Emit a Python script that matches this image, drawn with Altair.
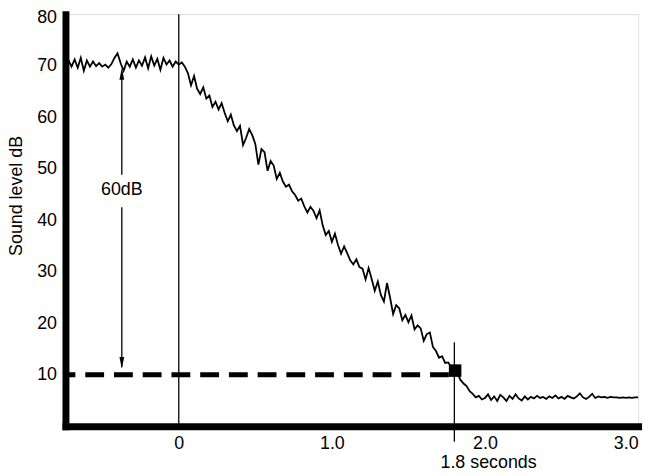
import altair as alt
import numpy as np
import pandas as pd

# Sound level (dB), sampled every 0.02 s starting at t = -0.74 s
plateau_db = [
    69.5, 71.0, 69.8, 71.2, 69.6, 71.5, 69.0, 71.0, 69.8, 70.8,
    69.9, 70.5, 69.8, 70.2, 69.6, 70.3, 71.5, 72.4, 70.5, 69.0,
    70.8, 69.8, 71.2, 69.6, 71.0, 70.0, 71.6, 69.5, 71.8, 70.0,
    71.3, 69.2, 71.5, 70.2, 71.0, 69.8, 70.8, 70.2, 70.6,
]
decay_db = [
    69.8, 68.5, 66.2, 68.0, 65.5, 64.5, 65.8, 63.6, 64.2, 62.0,
    63.0, 61.5, 62.7, 60.8, 59.2, 60.5, 58.4, 57.3, 58.3, 54.6,
    56.0, 57.7, 56.5, 54.8, 50.8, 53.8, 53.2, 49.6, 51.5, 50.6,
    48.0, 49.2, 47.5, 46.5, 46.9, 45.6, 44.9, 43.8, 44.2, 42.7,
    41.5, 42.6, 41.8, 40.4, 41.9, 39.0, 37.1, 37.9, 35.8, 37.4,
    35.2, 33.5, 34.9, 33.6, 32.2, 31.4, 32.4, 30.9, 30.6, 28.5,
    30.7, 28.6, 26.3, 28.1, 25.5, 24.2, 27.8, 25.0, 21.8, 23.5,
    22.9, 20.6, 21.6, 20.2, 21.5, 18.8, 19.6, 19.0, 16.6, 17.9,
    18.2, 15.4, 14.6, 13.3, 13.6, 12.3, 12.4, 11.4, 11.0, 10.3,
    9.0, 8.3, 7.8, 6.8,
]
tail_db = [
    6.3, 5.6, 5.9, 5.2, 5.5, 6.2, 5.1, 5.8, 4.9, 6.1,
    5.6, 4.9, 5.9, 5.3, 6.2, 5.4, 5.0, 5.8, 5.2, 5.7,
    5.4, 5.9, 5.5, 5.7, 5.3, 5.8, 5.5, 6.0, 5.4, 5.7,
    5.3, 5.9, 5.6, 5.4, 5.8, 6.4, 5.6, 5.3, 5.7, 6.3,
    5.5, 5.8, 5.6, 5.7, 5.5, 5.7, 5.6, 5.6, 5.5, 5.6,
    5.5, 5.6, 5.5, 5.6, 5.6,
]
level_db = plateau_db + decay_db + tail_db
start_time = -0.74
step_time = 0.02
time_s = np.round(start_time + step_time * np.arange(len(level_db)), 2)

x_domain = [-0.74, 3.0]
y_domain = [0, 80]
x_ticks = [0, 1, 2, 3]
y_ticks = [10, 20, 30, 40, 50, 60, 70, 80]

# annotations
rule_times = [0.0, 1.8]
rule_top = [80, 16.3]
rule_bottom = [0, -3]
arrow_time = -0.372
arrow_seg_top = [69.0, 42.5]
arrow_seg_bottom = [48.8, 11.5]
arrowhead_db = [68.4, 12.3]
arrowhead_dir = ["up", "down"]
dash_start, dash_end, dash_level = -0.74, 1.82, 10
blob_time, blob_db = 1.805, 10.8
label_60 = "60dB"
label_60_db = 45.8
label_sec = "1.8 seconds"
label_sec_time = 1.8

FONT = "Liberation Sans"

curve_df = pd.DataFrame({"t": time_s, "db": level_db})
rules_df = pd.DataFrame({"t": rule_times, "y1": rule_top, "y2": rule_bottom})
arrow_df = pd.DataFrame({"t": [arrow_time] * 2, "y1": arrow_seg_top, "y2": arrow_seg_bottom})
heads_df = pd.DataFrame({"t": [arrow_time] * 2, "db": arrowhead_db, "dir": arrowhead_dir})
dash_df = pd.DataFrame({"t0": [dash_start], "t1": [dash_end], "db": [dash_level]})
blob_df = pd.DataFrame({"t": [blob_time], "db": [blob_db]})
lab60_df = pd.DataFrame({"t": [arrow_time], "db": [label_60_db], "txt": [label_60]})
labsec_df = pd.DataFrame({"t": [label_sec_time], "db": [0], "txt": [label_sec]})

xs = alt.Scale(domain=x_domain, nice=False, zero=False)
ys = alt.Scale(domain=y_domain, nice=False, zero=False)

x_axis = alt.Axis(
    values=x_ticks, title=None, grid=False, ticks=False, tickSize=0,
    domainWidth=7, domainColor="black", domainCap="square",
    labelExpr="datum.value == 0 ? '0' : format(datum.value, '.1f')",
    labelFont=FONT, labelFontSize=18, labelColor="black", labelPadding=8,
)
y_axis = alt.Axis(
    values=y_ticks, title="Sound level dB", grid=False, ticks=False, tickSize=0,
    domainWidth=7, domainColor="black", domainCap="square",
    labelFont=FONT, labelFontSize=18, labelColor="black", labelPadding=9,
    labelFlush=False,
    labelOffset={"condition": {"test": "datum.value == 80", "value": 3}, "value": 0},
    titleFont=FONT, titleFontSize=18, titleFontWeight="normal", titleColor="black",
    titleX=-44.5, titleY=183, titleAngle=270, titleBaseline="alphabetic", titleAlign="center",
)

curve = alt.Chart(curve_df).mark_line(color="black", strokeWidth=1.8).encode(
    x=alt.X("t:Q", scale=xs, axis=x_axis),
    y=alt.Y("db:Q", scale=ys, axis=y_axis),
)
rules = alt.Chart(rules_df).mark_rule(color="black", strokeWidth=1.3).encode(
    x=alt.X("t:Q", scale=xs), y=alt.Y("y1:Q", scale=ys), y2="y2:Q"
)
arrow = alt.Chart(arrow_df).mark_rule(color="black", strokeWidth=1.3).encode(
    x=alt.X("t:Q", scale=xs), y=alt.Y("y1:Q", scale=ys), y2="y2:Q"
)
heads = alt.Chart(heads_df).mark_point(filled=True, color="black", opacity=1, size=144).encode(
    x=alt.X("t:Q", scale=xs), y=alt.Y("db:Q", scale=ys),
    shape=alt.Shape("dir:N", scale=alt.Scale(domain=["up", "down"],
                    range=["M0,-1L0.4,1L-0.4,1Z", "M0,1L0.4,-1L-0.4,-1Z"]), legend=None),
)
dash = alt.Chart(dash_df).mark_rule(color="black", strokeWidth=5, strokeDash=[19, 10], strokeDashOffset=9).encode(
    x=alt.X("t0:Q", scale=xs), x2="t1:Q", y=alt.Y("db:Q", scale=ys)
)
blob = alt.Chart(blob_df).mark_square(color="black", opacity=1, size=160).encode(
    x=alt.X("t:Q", scale=xs), y=alt.Y("db:Q", scale=ys)
)
lab60 = alt.Chart(lab60_df).mark_text(font=FONT, fontSize=18, color="black", align="center", baseline="middle").encode(
    x=alt.X("t:Q", scale=xs), y=alt.Y("db:Q", scale=ys), text="txt:N"
)
labsec = alt.Chart(labsec_df).mark_text(font=FONT, fontSize=18, color="black", align="left", baseline="alphabetic", dx=-14, dy=42).encode(
    x=alt.X("t:Q", scale=xs), y=alt.Y("db:Q", scale=ys), text="txt:N"
)

chart = alt.layer(curve, rules, arrow, heads, dash, blob, lab60, labsec).properties(
    width=578, height=416,
    autosize=alt.AutoSizeParams(type="none"),
    padding={"left": 58, "top": 4, "right": 10, "bottom": 46},
).configure_view(stroke=None).configure(background="white")

chart.save("out.html", embed_options={"renderer": "svg", "actions": False})
